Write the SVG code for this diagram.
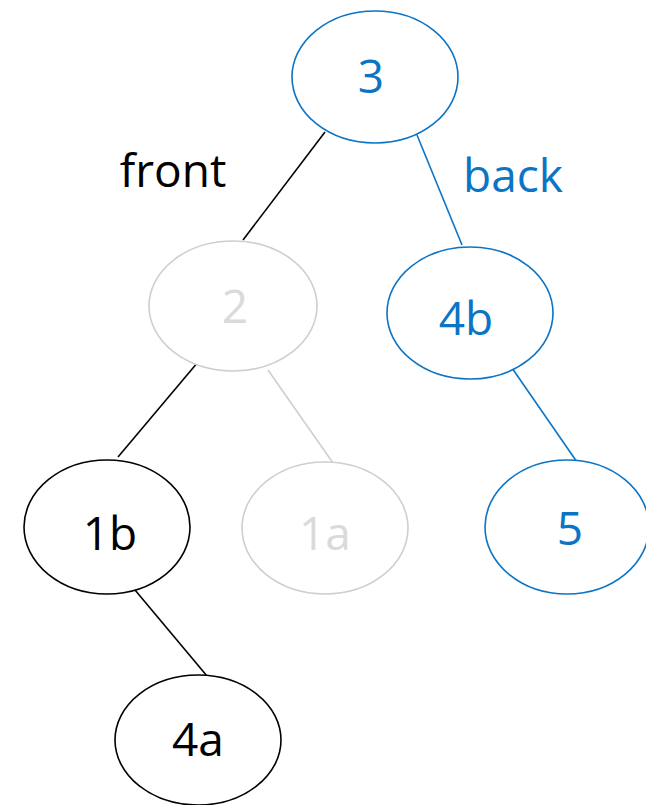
<svg xmlns="http://www.w3.org/2000/svg" width="646" height="805" viewBox="0 0 646 805">
<style>
.n{fill:#fff;stroke-width:1.6}
.t{font-family:"Open Sans","Noto Sans",sans-serif;font-size:46px;text-anchor:middle}
.k{stroke:#000}.kt{fill:#000}
.b{stroke:#0B74C4}.bt{fill:#0B74C4}
.g{stroke:#CFCFCF}.gt{fill:#DADADA}
.e{stroke-width:1.6;fill:none}
</style>
<rect width="646" height="805" fill="#fff"/>
<g id="edges">
<line class="e k" x1="325" y1="132" x2="243" y2="240"/>
<line class="e b" x1="417" y1="135" x2="462" y2="245"/>
<line class="e k" x1="198" y1="362" x2="118" y2="457"/>
<line class="e g" x1="268" y1="370" x2="333" y2="463"/>
<line class="e b" x1="512" y1="368" x2="577" y2="462"/>
<line class="e k" x1="135" y1="590" x2="207" y2="676"/>
</g>
<g id="n3"><ellipse class="n b" cx="375" cy="77" rx="83" ry="66"/><text class="t bt" x="371" y="93">3</text></g>
<g id="n2"><ellipse class="n g" cx="233" cy="306" rx="84" ry="65"/><text class="t gt" x="235" y="323">2</text></g>
<g id="n4b"><ellipse class="n b" cx="470" cy="313" rx="83" ry="66"/><text class="t bt" x="466" y="335">4b</text></g>
<g id="n1b"><ellipse class="n k" cx="107" cy="527" rx="83" ry="67"/><text class="t kt" x="110" y="550">1b</text></g>
<g id="n1a"><ellipse class="n g" cx="325" cy="528" rx="83" ry="66"/><text class="t gt" x="325" y="550">1a</text></g>
<g id="n5"><ellipse class="n b" cx="567" cy="527" rx="82" ry="67"/><text class="t bt" x="570" y="545">5</text></g>
<g id="n4a"><ellipse class="n k" cx="198" cy="740" rx="83" ry="65"/><text class="t kt" x="198" y="756">4a</text></g>
<text class="t kt" x="173" y="187">front</text>
<text class="t bt" x="513" y="192">back</text>
</svg>
